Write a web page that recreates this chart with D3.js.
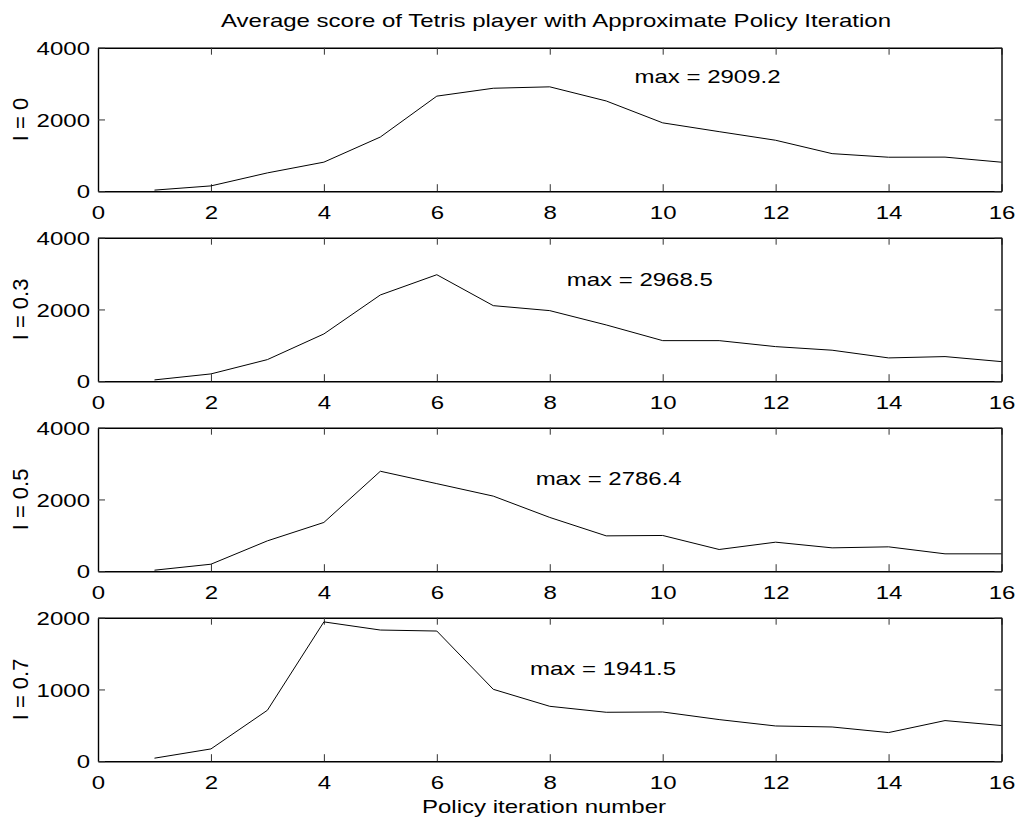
<!DOCTYPE html>
<html>
<head>
<meta charset="utf-8">
<script src="https://cdn.jsdelivr.net/npm/d3@7"></script>
<style>
  body { margin: 0; background: #fff; }
  svg { display: block; font-family: "Liberation Sans", Arial, Helvetica, sans-serif; }
</style>
</head>
<body>
<svg id="chart" width="1017" height="821"></svg>
<script>
// policy iteration number
const iters = [1, 2, 3, 4, 5, 6, 7, 8, 9, 10, 11, 12, 13, 14, 15, 16];

// average score per iteration, one list per I value
const scoreI0  = [30, 148, 510, 810, 1510, 2650, 2870, 2909.2, 2515, 1905, 1660, 1420, 1047, 947, 950, 808];
const scoreI03 = [36, 203, 602, 1317, 2404, 2968.5, 2106, 1967, 1568, 1131, 1131, 964, 864, 649, 686, 546];
const scoreI05 = [28, 195, 846, 1359, 2786.4, 2440, 2093, 1499, 985, 996, 605, 809, 651, 679, 484, 484];
const scoreI07 = [42, 171, 710, 1941.5, 1828, 1814, 1002, 765, 682, 686, 580, 491, 477, 399, 566, 497];

const panelLabels = ["I = 0", "I = 0.3", "I = 0.5", "I = 0.7"];
const maxLabels = ["max = 2909.2", "max = 2968.5", "max = 2786.4", "max = 1941.5"];
const yMaxes = [4000, 4000, 4000, 2000];
const yTicks = [[0, 2000, 4000], [0, 2000, 4000], [0, 2000, 4000], [0, 1000, 2000]];
const xTicks = [0, 2, 4, 6, 8, 10, 12, 14, 16];
// where the "max = ..." note sits, in data units
const noteX = [9.5, 8.3, 7.75, 7.65];
const noteY = [3200, 2850, 2600, 1300];

const series = [scoreI0, scoreI03, scoreI05, scoreI07];

const W = 1017, H = 821;
const left = 98, right = 1001.5;
const top0 = 47.7, panelH = 143.5, gap = 190;
const SY = 0.775; // text in the picture is squashed vertically
const FS = 24;

const svg = d3.select("#chart");

const x = d3.scaleLinear().domain([0, 16]).range([left, right]);

// title
svg.append("text")
  .attr("transform", `translate(556,27.3) scale(1,${SY})`)
  .attr("text-anchor", "middle")
  .attr("font-size", FS)
  .text("Average score of Tetris player with Approximate Policy Iteration");

series.forEach((vals, i) => {
  const t = top0 + i * gap, b = t + panelH;
  const y = d3.scaleLinear().domain([0, yMaxes[i]]).range([b, t]);
  const g = svg.append("g");

  // inward ticks on all four sides
  const bottom = g.append("g").attr("transform", `translate(0,${b})`)
    .call(d3.axisBottom(x).tickValues(xTicks).tickSize(-7).tickSizeOuter(0).tickFormat(d3.format("d")));
  bottom.selectAll("text")
    .attr("y", null).attr("dy", null)
    .attr("transform", `translate(0,27.3) scale(1,${SY})`)
    .attr("font-size", FS).attr("fill", "#000");

  g.append("g").attr("transform", `translate(0,${t})`)
    .call(d3.axisTop(x).tickValues(xTicks).tickSize(-7).tickSizeOuter(0).tickFormat(""));

  const leftAx = g.append("g").attr("transform", `translate(${left},0)`)
    .call(d3.axisLeft(y).tickValues(yTicks[i]).tickSize(-7).tickSizeOuter(0).tickFormat(d3.format("d")));
  leftAx.selectAll("text")
    .attr("x", null).attr("dy", null)
    .attr("text-anchor", "end")
    .attr("transform", `translate(-8,6.7) scale(1,${SY})`)
    .attr("font-size", FS).attr("fill", "#000");

  g.append("g").attr("transform", `translate(${right},0)`)
    .call(d3.axisRight(y).tickValues(yTicks[i]).tickSize(-7).tickSizeOuter(0).tickFormat(""));

  g.selectAll(".tick line").attr("stroke", "#333").attr("stroke-width", 1);
  g.selectAll(".domain").attr("stroke", "#000").attr("stroke-width", 1.4);

  // data line
  g.append("path")
    .datum(iters.map((it, k) => [it, vals[k]]))
    .attr("fill", "none")
    .attr("stroke", "#000")
    .attr("stroke-width", 1)
    .attr("d", d3.line().x(d => x(d[0])).y(d => y(d[1])));

  // max note
  g.append("text")
    .attr("transform", `translate(${x(noteX[i])},${y(noteY[i]) + 6.7}) scale(1,${SY})`)
    .attr("font-size", FS)
    .text(maxLabels[i]);

  // y label
  g.append("text")
    .attr("transform", `translate(28.3,${(t + b) / 2}) rotate(-90)`)
    .attr("text-anchor", "middle")
    .attr("font-size", 22)
    .text(panelLabels[i]);
});

// x label
svg.append("text")
  .attr("transform", `translate(544,813) scale(1,${SY})`)
  .attr("text-anchor", "middle")
  .attr("font-size", FS)
  .text("Policy iteration number");
</script>
</body>
</html>
